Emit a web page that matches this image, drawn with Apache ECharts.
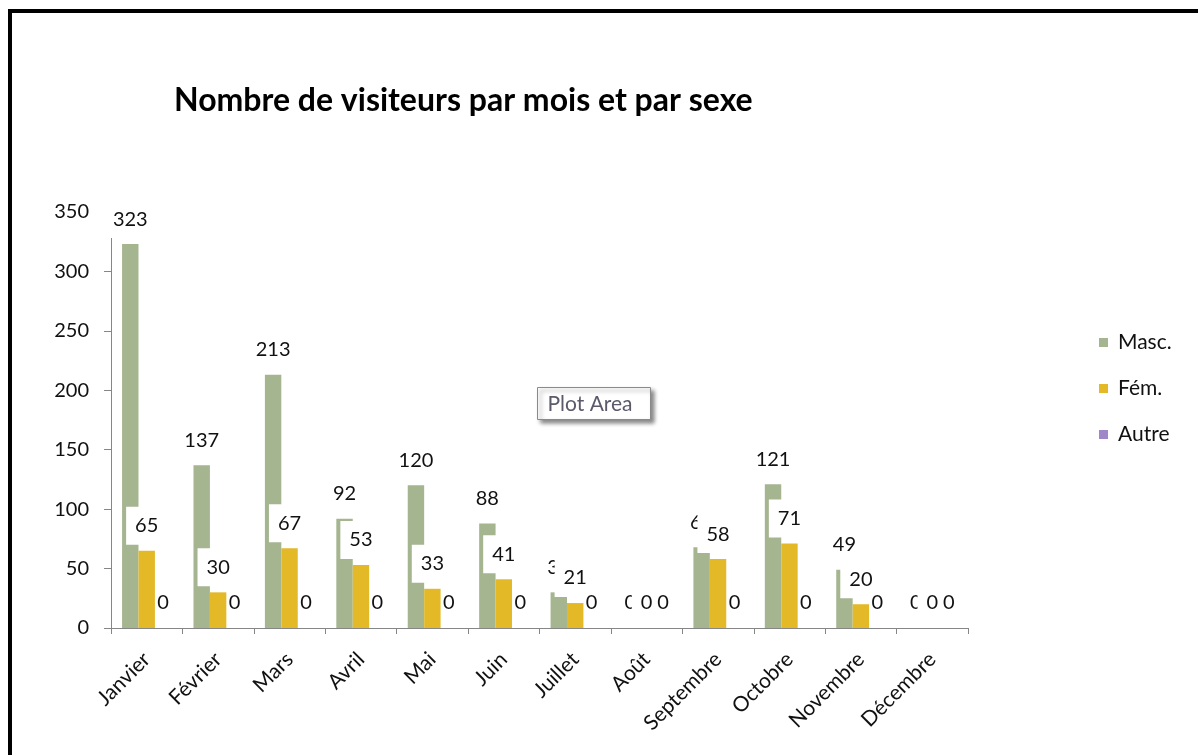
<!DOCTYPE html>
<html>
<head>
<meta charset="utf-8">
<script src="https://cdn.jsdelivr.net/npm/echarts@6/dist/echarts.min.js"></script>
<style>
    html, body { margin: 0; padding: 0; background: #fff; }
    #chart { width: 1198px; height: 755px; }
</style>
</head>
<body>
<div id="chart"></div>
<script>
    // mois
    var mois = ['Janvier', 'Février', 'Mars', 'Avril', 'Mai', 'Juin', 'Juillet', 'Août', 'Septembre', 'Octobre', 'Novembre', 'Décembre'];
    // valeurs par sexe
    var masc = [323, 137, 213, 92, 120, 88, 30, 0, 68, 121, 49, 0];
    var fem = [65, 30, 67, 53, 33, 41, 21, 0, 58, 71, 20, 0];
    var autre = [0, 0, 0, 0, 0, 0, 0, 0, 0, 0, 0, 0];
    var yTicks = [0, 50, 100, 150, 200, 250, 300, 350];

    var police = 'Lato, "Open Sans", sans-serif';

    // étiquettes avec fond blanc (Masc. et Fém.)
    var etiquette = {
        show: true,
        position: 'top',
        distance: 6,
        color: '#111',
        fontSize: 20,
        fontFamily: police,
        backgroundColor: '#fff',
        padding: [9, 9]
    };
    // étiquettes sans fond (Autre)
    var etiquetteAutre = {
        show: true,
        position: 'top',
        distance: 15,
        color: '#111',
        fontSize: 20,
        fontFamily: police
    };

    var chart = echarts.init(document.getElementById('chart'));

    var option = {
        backgroundColor: '#fff',
        animation: false,
        title: {
            text: 'Nombre de visiteurs par mois et par sexe',
            left: 169,
            top: 80,
            textStyle: {color: '#000', fontSize: 32, fontWeight: 'bold', fontFamily: police}
        },
        legend: {
            orient: 'vertical',
            left: 1099,
            top: 332,
            padding: 0,
            itemGap: 25,
            itemWidth: 9,
            itemHeight: 9,
            icon: 'rect',
            textStyle: {color: '#111', fontSize: 21, fontFamily: police, padding: [0, 0, 0, 5]},
            data: ['Masc.', 'Fém.', 'Autre']
        },
        grid: {
            left: 111,
            right: 230,
            top: 212,
            bottom: 127
        },
        xAxis: {
            type: 'category',
            data: mois,
            axisLine: {lineStyle: {color: '#868686', width: 1}},
            axisTick: {show: true, length: 6, lineStyle: {color: '#868686'}},
            axisLabel: {
                rotate: 45,
                margin: 28,
                color: '#111',
                fontSize: 21,
                fontFamily: police,
                interval: 0
            },
            splitLine: {show: false}
        },
        yAxis: {
            type: 'value',
            min: yTicks[0],
            max: yTicks[yTicks.length - 1],
            interval: 50,
            axisLine: {show: true, lineStyle: {color: '#868686', width: 1}},
            axisTick: {show: true, length: 7, lineStyle: {color: '#868686'}},
            axisLabel: {color: '#111', fontSize: 20, fontFamily: police, margin: 22},
            splitLine: {show: false}
        },
        series: [
            {
                name: 'Masc.',
                type: 'bar',
                barGap: '0%',
                barCategoryGap: '31%',
                itemStyle: {color: '#a5b590'},
                label: etiquette,
                data: masc
            },
            {
                name: 'Fém.',
                type: 'bar',
                itemStyle: {color: '#e3b928'},
                label: etiquette,
                data: fem
            },
            {
                name: 'Autre',
                type: 'bar',
                itemStyle: {color: '#9f87c8'},
                label: etiquetteAutre,
                data: autre
            }
        ],
        graphic: [
            {
                type: 'rect',
                z: 100,
                shape: {x: 10, y: 11, width: 1210, height: 770},
                style: {fill: 'none', stroke: '#000', lineWidth: 4}
            },
            {
                type: 'group',
                left: 537,
                top: 387,
                z: 100,
                children: [
                    {
                        type: 'rect',
                        shape: {x: 0, y: 0, width: 113, height: 32},
                        style: {
                            fill: '#fff', stroke: '#8a8a8a', lineWidth: 1,
                            shadowBlur: 4, shadowOffsetX: 3, shadowOffsetY: 3, shadowColor: 'rgba(0,0,0,0.45)'
                        }
                    },
                    {
                        type: 'text',
                        x: 10,
                        y: 6,
                        style: {text: 'Plot Area', fill: '#5a5a6a', fontSize: 21, fontFamily: police}
                    }
                ]
            }
        ]
    };

    chart.setOption(option);
</script>
</body>
</html>
